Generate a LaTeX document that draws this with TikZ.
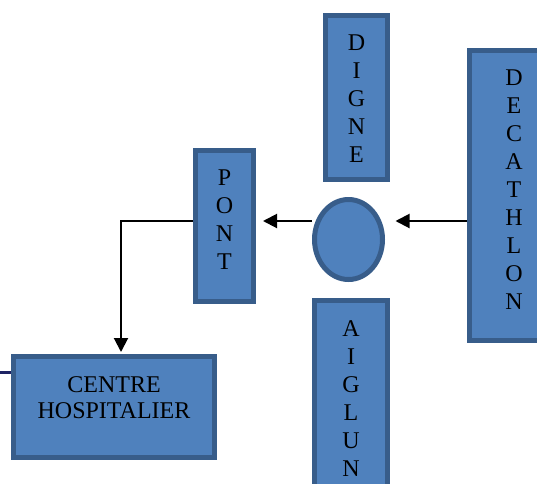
\documentclass[tikz,border=0pt]{standalone}
\usepackage{fontspec}
\setmainfont{Liberation Serif}
\usetikzlibrary{positioning,shapes.geometric,arrows.meta}
\definecolor{boxfill}{HTML}{4F81BD}
\definecolor{boxline}{HTML}{385D8A}
\definecolor{navyline}{RGB}{30,35,100}

\begin{document}
\begin{tikzpicture}[x=1pt,y=-1pt,
		box/.style={draw=boxline,fill=boxfill,line width=5pt,inner sep=0pt},
		lbl/.style={align=center,inner sep=0pt,text=black,font=\fontsize{24pt}{28pt}\selectfont},
		link/.style={line width=2pt,black},
		arr/.style={link,-{Triangle[length=14pt,width=14pt]}}]
				\useasboundingbox (0,0) rectangle (537,483);
				\node[box,minimum width=62pt,minimum height=164pt] (digne) at (356.5,97.5) {};
				\node[box,minimum width=89pt,minimum height=290pt] (decathlon) at (514,195.5) {};
				\node[box,minimum width=58pt,minimum height=151pt] (pont) at (224.5,226) {};
				\node[box,minimum width=73pt,minimum height=220pt] (aiglun) at (351,410.5) {};
				\node[box,minimum width=201pt,minimum height=101pt] (centre) at (114,407) {};
				\node[box,ellipse,minimum width=68pt,minimum height=80pt] (rond) at (348.5,239.5) {};
				\node[lbl,below=22pt of digne.north] (dignetxt) {D\\I\\G\\N\\E};
				\node[lbl,below=22pt of decathlon.north] (decathlontxt) {D\\E\\C\\A\\T\\H\\L\\O\\N};
				\node[lbl,below=22pt of pont.north] (ponttxt) {P\\O\\N\\T};
				\node[lbl,below=22pt of aiglun.north] (aigluntxt) {A\\I\\G\\L\\U\\N};
				\node[lbl,font=\fontsize{24pt}{26.5pt}\selectfont,below=22pt of centre.north] (centretxt) {CENTRE\\HOSPITALIER};
				\coordinate (niveau) at (0,221);
				\coordinate (horsgauche) at (-5,372);
				\draw[arr,shorten >=10.5pt] (decathlon.west |- niveau) -- (rond.east |- niveau);
				\draw[arr,shorten >=7pt] (rond.west |- niveau) -- (pont.east |- niveau);
				\draw[arr,shorten >=2pt] (pont.west |- niveau) -| ([xshift=7pt]centre.north);
				\draw[navyline,line width=3pt] (horsgauche) -- (centre.west |- horsgauche);
			\end{tikzpicture}
\end{document}
